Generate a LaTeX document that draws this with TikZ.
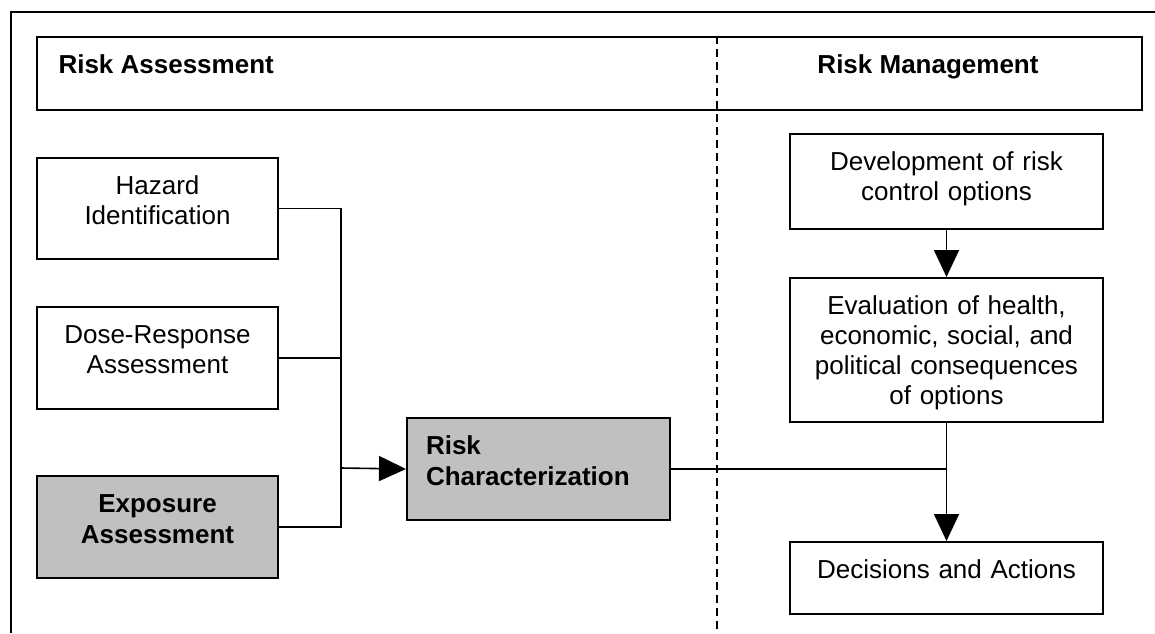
\documentclass[tikz,border=0pt]{standalone}
\usepackage{fontspec}
\setmainfont{Liberation Sans}
\usepackage{tikz}
\usetikzlibrary{arrows.meta}
\definecolor{boxgray}{HTML}{C0C0C0}

\begin{document}
\begin{tikzpicture}[x=1pt, y=-1pt, font=\fontsize{26}{30}\selectfont,
    >={Triangle[length=27pt, width=25pt]},
    box/.style={draw, line width=2pt, anchor=north west, align=center,
      inner xsep=0pt, inner ysep=0pt, text height=36pt},
    shaded/.style={box, fill=boxgray, font=\fontsize{26}{31}\selectfont\bfseries},
    wire/.style={line width=1.6pt}]
      \useasboundingbox (0, 0) rectangle (1155, 633);
      \draw[line width=1.5pt] (1155, 12) -- (11, 12) -- (11, 633);
      \node[draw, line width=2pt, anchor=north west, inner sep=0pt,
        minimum width=1105pt, minimum height=73pt] (head) at (36, 36) {};
      \draw[line width=1.6pt, dash pattern=on 8pt off 5pt] (717, 36) -- (717, 633);
      \node[anchor=base west, font=\fontsize{26}{30}\selectfont\bfseries] (ra) at (55, 73) {Risk Assessment};
      \node[anchor=base, font=\fontsize{26}{30}\selectfont\bfseries] (rm) at (928, 73) {Risk Management};
      \node[box, text width=241pt, text depth=65pt] (haz) at (36, 157) {Hazard\\Identification};
      \node[box, text width=241pt, text depth=66pt] (dose) at (36, 306) {Dose-Response\\Assessment};
      \node[shaded, text width=241pt, text depth=66pt] (expo) at (36, 475) {Exposure\\Assessment};
      \node[shaded, align=left, inner xsep=19pt, text width=225pt, text depth=66pt] (risk) at (406, 417) {Risk\\Characterization};
      \node[box, text width=313pt, text depth=59pt] (dev) at (789, 133) {Development of risk\\control options};
      \node[box, text width=313pt, text depth=108pt] (eval) at (789, 277) {Evaluation of health,\\economic, social, and\\political consequences\\of options};
      \node[box, text width=313pt, text depth=36pt] (dec) at (789, 541) {Decisions and Actions};
      \coordinate (bus) at (341, 468);
      \draw[wire] (haz.east) -| (bus) |- (expo.east);
      \draw[wire] (dose.east) -- (dose.east -| bus);
      \draw[wire, ->] (bus) -- (risk.west);
      \draw[wire] (risk.east) -- (risk.east -| dec.north);
      \draw[wire, ->] (dev.south) -- (eval.north);
      \draw[wire, ->] (eval.south) -- (dec.north);
    \end{tikzpicture}
\end{document}
